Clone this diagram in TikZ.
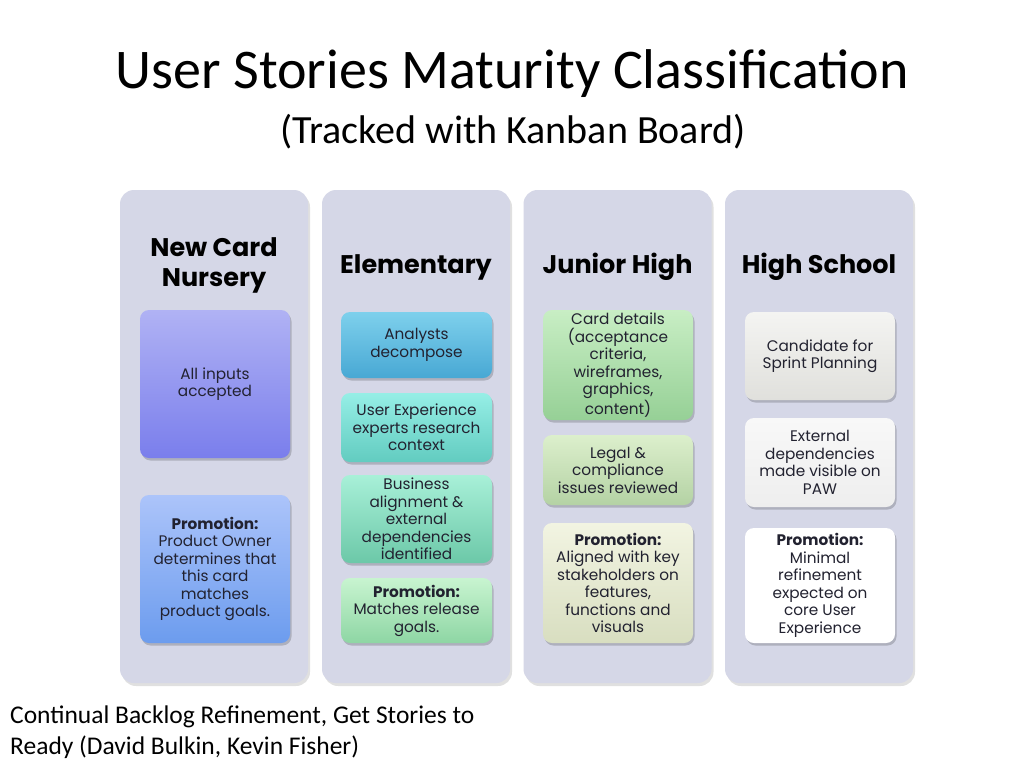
\documentclass[tikz,border=0pt]{standalone}
\usepackage{fontspec}
\setmainfont{Carlito}
\newfontfamily\boxfont{Poppins}
\definecolor{colbg}{HTML}{D5D7E7}
\definecolor{txt}{HTML}{222230}
\definecolor{aat}{HTML}{B0B2F4}\definecolor{aab}{HTML}{7A7EEC}
\definecolor{abt}{HTML}{ACC4FA}\definecolor{abb}{HTML}{6C9CEE}
\definecolor{bat}{HTML}{7ED0EC}\definecolor{bab}{HTML}{48A8D4}
\definecolor{bbt}{HTML}{96EEE6}\definecolor{bbb}{HTML}{62CCC0}
\definecolor{bct}{HTML}{A8F0D8}\definecolor{bcb}{HTML}{6CC8A8}
\definecolor{bdt}{HTML}{C8F4D0}\definecolor{bdb}{HTML}{8ED6A4}
\definecolor{dat}{HTML}{C8EEC4}\definecolor{dab}{HTML}{96D096}
\definecolor{dbt}{HTML}{DCEFCC}\definecolor{dbb}{HTML}{B4D2A4}
\definecolor{dct}{HTML}{F2F4E2}\definecolor{dcb}{HTML}{D8DEC0}
\definecolor{eat}{HTML}{F4F4F2}\definecolor{eab}{HTML}{E0E0DC}
\definecolor{ebt}{HTML}{F8F8F8}\definecolor{ebb}{HTML}{EEEEEE}
\tikzset{
  column/.style={rectangle, rounded corners=14pt, fill=colbg, minimum width=188pt, minimum height=493pt, inner sep=0pt},
  colshadow/.style={rectangle, rounded corners=14pt, fill=black, opacity=0.12, minimum width=188pt, minimum height=493pt, inner sep=0pt},
  heading/.style={font=\boxfont\bfseries\fontsize{25.5}{30}\selectfont, text=black, align=center},
  card/.style={rectangle, rounded corners=9pt, minimum width=150pt, inner sep=0pt, align=center, text=txt, font=\boxfont\fontsize{15.3}{17.5}\selectfont},
  cardshadow/.style={rectangle, rounded corners=9pt, fill=black, opacity=0.18, minimum width=150pt, inner sep=0pt},
  titletext/.style={font=\fontsize{56}{66}\selectfont, text=black, inner sep=0pt},
  subtext/.style={font=\fontsize{40}{48}\selectfont, text=black, inner sep=0pt},
  foottext/.style={font=\fontsize{25.5}{31}\selectfont, text=black, align=left, anchor=north west, inner sep=0pt}
}
\newcommand{\card}[8]{% name, x, y, w, h, top, bottom, text
  \node[cardshadow, minimum width=#4pt, minimum height=#5pt] at (#2+1.5,#3+2.5) {};
  \node[card, minimum width=#4pt, minimum height=#5pt, top color=#6, bottom color=#7] (#1) at (#2,#3) {#8};
}
\newcommand{\kcol}[2]{% name, x
  \node[colshadow] at (#2+2,436.5+3) {};
  \node[column] (#1) at (#2,436.5) {};
}
\begin{document}
\begin{tikzpicture}[x=1pt,y=-1pt]
\useasboundingbox (0,0) rectangle (1024,768);
\fill[white] (0,0) rectangle (1024,768);

\node[titletext, anchor=base] (title) at (512,88) {User Stories Maturity Classification};
\node[subtext, anchor=base] (subtitle) at (513,143) {(Tracked with Kanban Board)};

\kcol{c1}{214}
\kcol{c2}{416}
\kcol{c3}{617.5}
\kcol{c4}{819}

\node[heading] (h1) at (214,265) {New Card\\Nursery};
\node[heading] (h2) at (416,267) {Elementary};
\node[heading] (h3) at (617.5,267) {Junior High};
\node[heading] (h4) at (819,267) {High School};

\card{a1}{215}{384}{150}{148}{aat}{aab}{All inputs\\accepted}
\card{a2}{215}{569}{150}{148}{abt}{abb}{\textbf{Promotion:}\\Product Owner\\determines that\\this card\\matches\\product goals.}

\card{b1}{416.5}{345}{151}{66}{bat}{bab}{Analysts\\decompose}
\card{b2}{416.5}{427.5}{151}{69}{bbt}{bbb}{User Experience\\experts research\\context}
\card{b3}{416.5}{519}{151}{88}{bct}{bcb}{Business\\alignment \&\\external\\dependencies\\identified}
\card{b4}{416.5}{610.5}{151}{65}{bdt}{bdb}{\textbf{Promotion:}\\Matches release\\goals.}

\card{d1}{618}{365}{150}{110}{dat}{dab}{Card details\\(acceptance\\criteria,\\wireframes,\\graphics,\\content)}
\card{d2}{618}{470}{150}{70}{dbt}{dbb}{Legal \&\\compliance\\issues reviewed}
\card{d3}{618}{583}{150}{120}{dct}{dcb}{\textbf{Promotion:}\\Aligned with key\\stakeholders on\\features,\\functions and\\visuals}

\card{e1}{820}{356}{150}{88}{eat}{eab}{Candidate for\\Sprint Planning}
\card{e2}{820}{462.5}{150}{89}{ebt}{ebb}{External\\dependencies\\made visible on\\PAW}
\card{e3}{820}{585.5}{150}{115}{white}{white}{\textbf{Promotion:}\\Minimal\\refinement\\expected on\\core User\\Experience}

\node[foottext] (foot) at (10,706) {Continual Backlog Refinement, Get Stories to\\Ready (David Bulkin, Kevin Fisher)};
\end{tikzpicture}
\end{document}
